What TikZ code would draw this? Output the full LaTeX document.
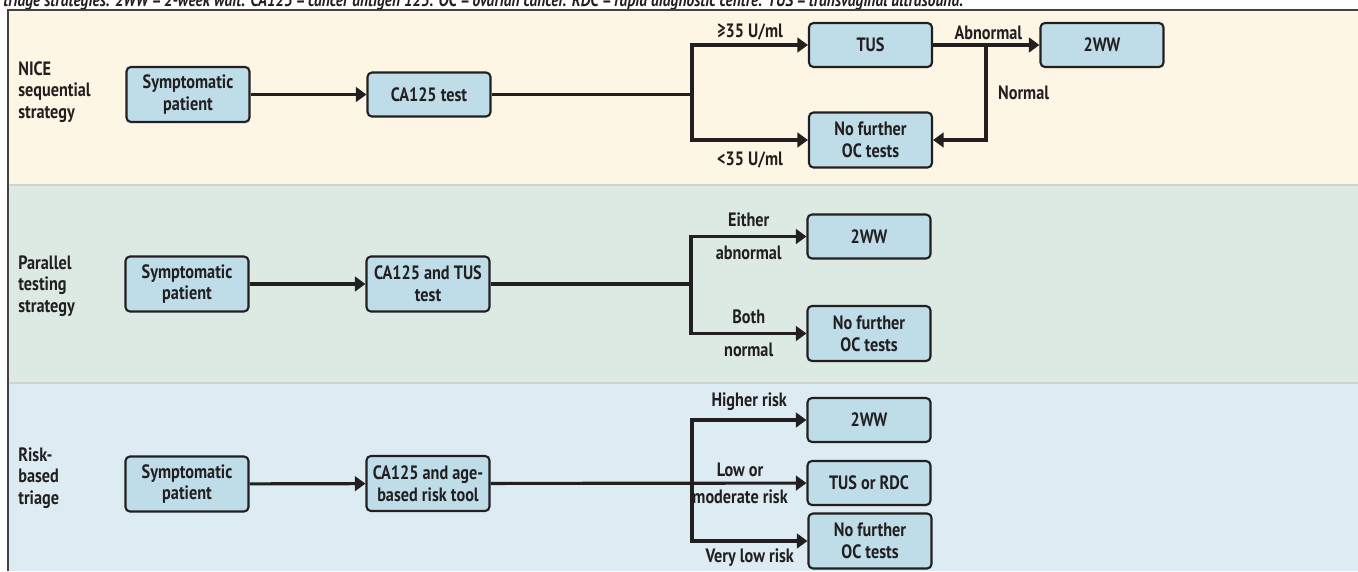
\documentclass[tikz,border=0pt]{standalone}
\usepackage{fontspec}
\setmainfont{PT Sans}[FakeStretch=0.84]
\usetikzlibrary{arrows.meta,positioning}
\definecolor{cream}{HTML}{FEF6E4}
\definecolor{mint}{HTML}{DCEAE3}
\definecolor{sky}{HTML}{DDEBF2}
\definecolor{boxblue}{HTML}{BEDDE8}
\definecolor{ink}{HTML}{231F20}
\definecolor{sepgrey}{HTML}{D2D2D2}
\newcommand{\lblfont}{\bfseries\fontsize{11}{12.4}\selectfont}
\tikzset{
  stepbox/.style={draw=ink, fill=boxblue, line width=1.2pt, rounded corners=2.5pt,
                  minimum width=2.46cm, minimum height=0.88cm, inner sep=3pt,
                  align=center, text=ink, font=\lblfont},
  arr/.style={-{Triangle[length=2.1mm, width=2.9mm]}, line width=1.8pt, color=ink},
  lnk/.style={line width=1.8pt, color=ink},
  edgelbl/.style={font=\lblfont, text=ink, inner xsep=2pt, inner ysep=4.5pt},
  rowlbl/.style={font=\lblfont, text=ink, align=left, anchor=west, inner sep=0pt}}
\begin{document}
\begin{tikzpicture}[x=0.02cm, y=-0.02cm]
        \useasboundingbox (0,0) rectangle (1358,571);
        \clip (0,0) rectangle (1358,571);
        \fill[white] (0,0) rectangle (1358,571);
        \node[anchor=base west, font=\bfseries\itshape\fontsize{10.5}{12}\selectfont, text=ink,
              inner sep=0pt] (cap) at (3,7)
          {triage strategies. 2WW = 2-week wait. CA125 = cancer antigen 125. OC = ovarian cancer. RDC = rapid diagnostic centre. TUS = transvaginal ultrasound.};
        % the three bands
        \fill[cream] (8,10) rectangle (1358,185);
        \fill[mint]  (8,185) rectangle (1358,383);
        \fill[sky]   (8,383) rectangle (1358,571);
        \draw[sepgrey, line width=1.6pt] (8,185) -- (1358,185) (8,383) -- (1358,383);
        \draw[ink!85, line width=0.9pt] (1358,10) -- (8,10) -- (8,571);
        % NICE sequential strategy
        \node[rowlbl] (r1) at (18,92) {NICE\\sequential\\strategy};
        \node[stepbox, minimum height=1.1cm] (sp1) at (188,94.5) {Symptomatic\\patient};
        \node[stepbox] (ca1) at (429,94.5) {CA125 test};
        \node[stepbox] (tus1) at (870.5,45) {TUS};
        \node[stepbox, minimum height=1.1cm] (nf1) at (870.5,140) {No further\\OC tests};
        \node[stepbox] (ww1) at (1102,45) {2WW};
        \coordinate (s1) at (692,94.5);
        \coordinate (s2) at (986,45);
        \draw[arr] (sp1) -- (ca1);
        \draw[lnk] (ca1) -- (s1);
        \draw[arr] (s1) |- node[pos=0.75, above, edgelbl, inner ysep=2pt] {≥35 U/ml} (tus1.west);
        \draw[arr] (s1) |- node[pos=0.75, below, edgelbl, inner ysep=6pt] {<35 U/ml} (nf1.west);
        \draw[arr] (tus1) -- node[pos=0.52, above, edgelbl, inner ysep=2pt] {Abnormal} (ww1);
        \draw[arr] (s2) |- node[pos=0.25, right, edgelbl, xshift=4pt] {Normal} (nf1.east);
        % parallel testing strategy
        \node[rowlbl] (r2) at (18,286) {Parallel\\testing\\strategy};
        \node[stepbox, minimum height=1.1cm] (sp2) at (187,284) {Symptomatic\\patient};
        \node[stepbox, minimum height=1.1cm] (ca2) at (428,284) {CA125 and TUS\\test};
        \node[stepbox] (ww2) at (869,236.5) {2WW};
        \node[stepbox, minimum height=1.1cm] (nf2) at (869,333.5) {No further\\OC tests};
        \coordinate (s3) at (691,284);
        \draw[arr] (sp2) -- (ca2);
        \draw[lnk] (ca2) -- (s3);
        \draw[arr] (s3) |- node[pos=0.75, above, edgelbl] {Either}
                           node[pos=0.75, below, edgelbl] {abnormal} (ww2.west);
        \draw[arr] (s3) |- node[pos=0.75, above, edgelbl] {Both}
                           node[pos=0.75, below, edgelbl] {normal} (nf2.west);
        % risk-based triage
        \node[rowlbl] (r3) at (18,478) {Risk-\\based\\triage};
        \node[stepbox, minimum height=1.1cm] (sp3) at (187,484) {Symptomatic\\patient};
        \node[stepbox, minimum height=1.1cm] (ca3) at (428,483.5) {CA125 and age-\\based risk tool};
        \node[stepbox] (ww3) at (869,420) {2WW};
        \node[stepbox] (tr3) at (869,483) {TUS or RDC};
        \node[stepbox, minimum height=1.1cm] (nf3) at (870,541) {No further\\OC tests};
        \coordinate (s4) at (692,483);
        \draw[arr] (sp3) -- (ca3);
        \draw[arr] (ca3) -- node[pos=0.79, above, edgelbl, inner ysep=3pt] {Low or}
                            node[pos=0.79, below, edgelbl, inner ysep=3pt] {moderate risk} (tr3);
        \draw[arr] (s4) |- node[pos=0.75, above, edgelbl] {Higher risk} (ww3.west);
        \draw[arr] (s4) |- node[pos=0.75, below, edgelbl, inner ysep=3.5pt] {Very low risk} (nf3.west);
      \end{tikzpicture}
\end{document}
